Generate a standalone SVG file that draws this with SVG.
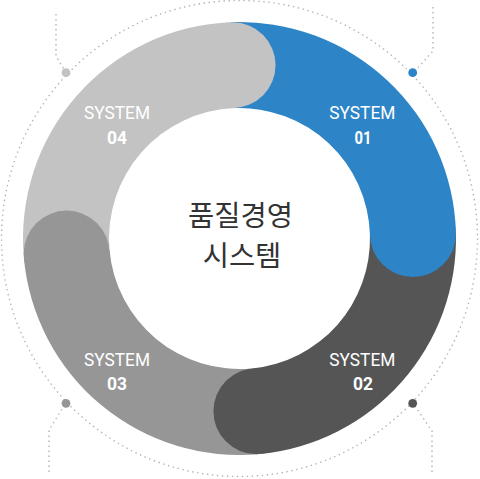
<svg xmlns="http://www.w3.org/2000/svg" width="480" height="479" viewBox="0 0 480 479">
<style>
.lbl{font-family:Roboto,"Liberation Sans",sans-serif;font-size:18px;fill:#fff;text-anchor:middle}
.num{font-family:Roboto,"Liberation Sans",sans-serif;font-size:17.5px;font-weight:bold;fill:#fff;text-anchor:middle}
.dots{fill:none;stroke:#b3b3b3;stroke-width:1.4;stroke-dasharray:1.4 3.6;stroke-linecap:butt}
.title{font-family:"Noto Sans CJK KR","Noto Sans",sans-serif;font-size:28.5px;fill:#333;text-anchor:middle}
</style>
<rect width="480" height="479" fill="#fff"/>
<g id="connectors">
<circle class="dots" cx="239.5" cy="238.5" r="238"/>
<path class="dots" d="M56,14 V56 L65,71"/>
<path class="dots" d="M433,7 V51 L415,71"/>
<path class="dots" d="M49,472 V430 L64,406"/>
<path class="dots" d="M432,472 V431 L415,406"/>
</g>
<g id="system01">
<path fill="#2d85c7" d="M230.81,22.18 A216.5,216.5 0 0 1 455.93,232.83 L369.96,235.08 A130.5,130.5 0 0 0 234.26,108.11 Z"/>
<circle cx="412.7" cy="72.7" r="4.4" fill="#2d85c7"/>
</g>
<g id="system02">
<path fill="#555555" d="M455.93,232.83 A216.5,216.5 0 0 1 260.63,453.97 L252.23,368.38 A130.5,130.5 0 0 0 369.96,235.08 Z"/>
<circle cx="412.7" cy="403.3" r="4.4" fill="#555555"/>
</g>
<g id="system03">
<path fill="#969696" d="M260.63,453.97 A216.5,216.5 0 0 1 23.82,257.37 L109.5,249.87 A130.5,130.5 0 0 0 252.23,368.38 Z"/>
<circle cx="66" cy="403.3" r="4.4" fill="#969696"/>
</g>
<g id="system04">
<path fill="#c3c3c3" d="M23.82,257.37 A216.5,216.5 0 0 1 230.81,22.18 L234.26,108.11 A130.5,130.5 0 0 0 109.5,249.87 Z"/>
<circle cx="66" cy="72.7" r="4.4" fill="#c3c3c3"/>
</g>
<g id="caps">
<circle cx="232.54" cy="65.14" r="43" fill="#c3c3c3"/>
<circle cx="412.94" cy="233.96" r="43" fill="#2d85c7"/>
<circle cx="256.43" cy="411.17" r="43" fill="#555555"/>
<circle cx="66.66" cy="253.62" r="43" fill="#969696"/>
</g>
<g id="labels">
<text class="lbl" x="362.3" y="119.3" textLength="66" lengthAdjust="spacingAndGlyphs">SYSTEM</text>
<text class="num" x="363" y="144" textLength="17" lengthAdjust="spacingAndGlyphs">01</text>
<text class="lbl" x="362.3" y="366" textLength="66" lengthAdjust="spacingAndGlyphs">SYSTEM</text>
<text class="num" x="363" y="390" textLength="20" lengthAdjust="spacingAndGlyphs">02</text>
<text class="lbl" x="117" y="366" textLength="66" lengthAdjust="spacingAndGlyphs">SYSTEM</text>
<text class="num" x="117" y="390" textLength="20" lengthAdjust="spacingAndGlyphs">03</text>
<text class="lbl" x="117" y="119.3" textLength="66" lengthAdjust="spacingAndGlyphs">SYSTEM</text>
<text class="num" x="117" y="144" textLength="20" lengthAdjust="spacingAndGlyphs">04</text>
</g>
<g id="center">
<text class="title" x="240.5" y="226">품질경영</text>
<text class="title" x="242" y="266">시스템</text>
</g>
</svg>
